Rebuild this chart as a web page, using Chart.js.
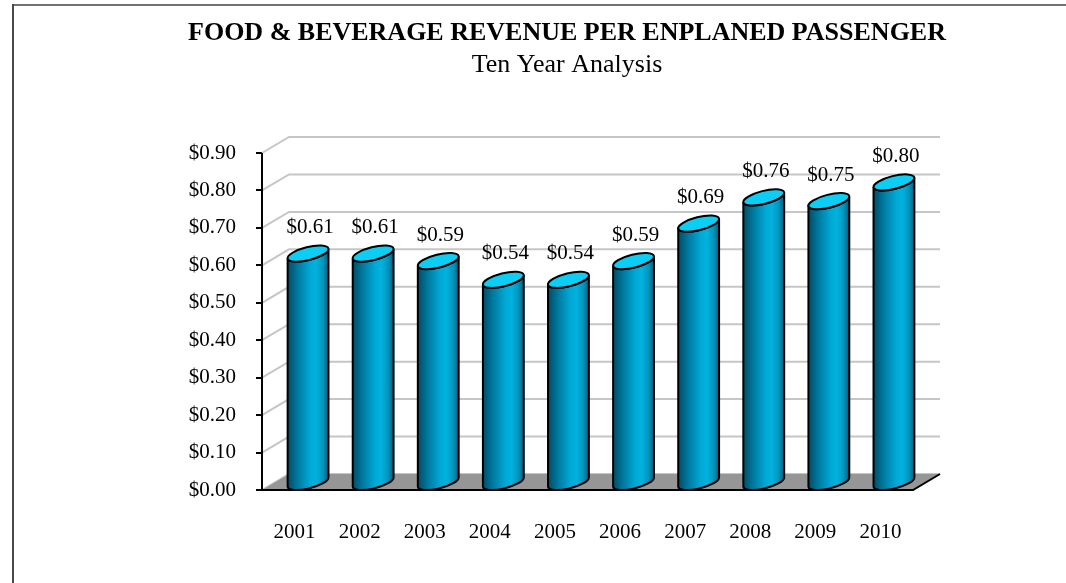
<!DOCTYPE html>
<html>
<head>
<meta charset="utf-8">
<script src="https://cdn.jsdelivr.net/npm/chart.js@4.4.1/dist/chart.umd.min.js"></script>
<style>
  html, body { margin: 0; padding: 0; background: #ffffff; width: 1066px; height: 583px; overflow: hidden; }
  #frameTop { position: absolute; left: 12px; top: 4px; width: 1054px; height: 2px; background: #727272; }
  #frameLeft { position: absolute; left: 12px; top: 4px; width: 2px; height: 579px; background: #4a4a4a; }
  #c { position: absolute; left: 0; top: 0; display: block; }
</style>
</head>
<body>
<div id="frameTop"></div>
<div id="frameLeft"></div>
<canvas id="c" width="1066" height="583"></canvas>
<script>
// ---- data ----
const years = ['2001','2002','2003','2004','2005','2006','2007','2008','2009','2010'];
const revenuePerPassenger = [0.61, 0.61, 0.59, 0.54, 0.54, 0.59, 0.69, 0.76, 0.75, 0.80];
const yTickMin = 0;
const yTickMax = 0.9;
const yTickStep = 0.1;
const titleText = 'FOOD & BEVERAGE REVENUE PER ENPLANED PASSENGER';
const subtitleText = 'Ten Year Analysis';

// ---- style constants ----
const SERIF = '"Liberation Serif", "Times New Roman", serif';
const DEPTH_X = 27, DEPTH_Y = -16;
const ELL_MINOR = 6.5, ELL_ROT = -0.245;

const fmt = v => '$' + v.toFixed(2);

const titlePlugin = {
  id: 'titles',
  afterDraw(chart) {
    const ctx = chart.ctx;
    const cxTitle = (chart.chartArea.left + chart.chartArea.right + DEPTH_X) / 2 - 34;
    ctx.save();
    ctx.fillStyle = '#000';
    ctx.textAlign = 'center';
    ctx.textBaseline = 'middle';
    ctx.font = 'bold 26px ' + SERIF;
    ctx.fillText(titleText, cxTitle, 33);
    ctx.font = '26px ' + SERIF;
    ctx.fillText(subtitleText, cxTitle, 65);
    ctx.restore();
  }
};

const cylinderPlugin = {
  id: 'cylinder3d',
  beforeDatasetsDraw(chart) {
    const ctx = chart.ctx;
    const xs = chart.scales.x, ys = chart.scales.y;
    const left = xs.left, right = xs.right;
    const y0 = ys.getPixelForValue(0);
    ctx.save();
    ctx.strokeStyle = '#c6c6c6';
    ctx.lineWidth = 2;
    ys.ticks.forEach(t => {
      const y = ys.getPixelForValue(t.value);
      ctx.beginPath();
      ctx.moveTo(left, y);
      ctx.lineTo(left + DEPTH_X, y + DEPTH_Y);
      ctx.lineTo(right + DEPTH_X, y + DEPTH_Y);
      ctx.stroke();
    });
    ctx.fillStyle = '#969696';
    ctx.beginPath();
    ctx.moveTo(left, y0);
    ctx.lineTo(right, y0);
    ctx.lineTo(right + DEPTH_X, y0 + DEPTH_Y);
    ctx.lineTo(left + DEPTH_X, y0 + DEPTH_Y);
    ctx.closePath();
    ctx.fill();
    ctx.strokeStyle = '#000';
    ctx.lineWidth = 2;
    ctx.beginPath();
    ctx.moveTo(left, y0);
    ctx.lineTo(right, y0);
    ctx.lineTo(right + DEPTH_X, y0 + DEPTH_Y);
    ctx.stroke();
    ctx.beginPath();
    ctx.moveTo(left, ys.top);
    ctx.lineTo(left, y0);
    ctx.stroke();
    ctx.restore();
  },
  afterDatasetsDraw(chart) {
    const ctx = chart.ctx;
    const ys = chart.scales.y;
    const meta = chart.getDatasetMeta(0);
    const y0 = ys.getPixelForValue(0);
    const th = ELL_ROT;
    meta.data.forEach((bar, i) => {
      const a = bar.width / 2, b = ELL_MINOR;
      const cx = bar.x + DEPTH_X / 2;
      const topY = bar.y + DEPTH_Y / 2;
      const botY = y0 + DEPTH_Y / 2;
      const tR = Math.atan(-(b * Math.sin(th)) / (a * Math.cos(th)));
      const tL = tR + Math.PI;
      const pt = (cy, t) => [cx + a * Math.cos(t) * Math.cos(th) - b * Math.sin(t) * Math.sin(th),
                             cy + a * Math.cos(t) * Math.sin(th) + b * Math.sin(t) * Math.cos(th)];
      const [lx] = pt(topY, tL);
      const [rx] = pt(topY, tR);
      ctx.save();
      const g = ctx.createLinearGradient(lx, 0, rx, 0);
      g.addColorStop(0, '#004c66');
      g.addColorStop(0.25, '#007aa0');
      g.addColorStop(0.55, '#00a9d6');
      g.addColorStop(0.7, '#00b2de');
      g.addColorStop(0.87, '#0094bc');
      g.addColorStop(1, '#005a78');
      ctx.beginPath();
      const pTL = pt(topY, tL);
      ctx.moveTo(pTL[0], pTL[1]);
      const pBL = pt(botY, tL);
      ctx.lineTo(pBL[0], pBL[1]);
      ctx.ellipse(cx, botY, a, b, th, tL, tR, true);
      const pTR = pt(topY, tR);
      ctx.lineTo(pTR[0], pTR[1]);
      ctx.ellipse(cx, topY, a, b, th, tR, tL, false);
      ctx.closePath();
      ctx.fillStyle = g;
      ctx.fill();
      ctx.strokeStyle = '#000';
      ctx.lineWidth = 2;
      ctx.stroke();
      ctx.beginPath();
      ctx.ellipse(cx, topY, a, b, th, 0, Math.PI * 2);
      ctx.fillStyle = '#0ccdf4';
      ctx.fill();
      ctx.stroke();
      ctx.fillStyle = '#000';
      ctx.font = '21px ' + SERIF;
      ctx.textAlign = 'center';
      ctx.textBaseline = 'middle';
      ctx.fillText(fmt(revenuePerPassenger[i]), cx + 2, topY - 26);
      ctx.restore();
    });
  }
};

new Chart(document.getElementById('c'), {
  type: 'bar',
  data: {
    labels: years,
    datasets: [{
      data: revenuePerPassenger,
      backgroundColor: 'rgba(0,0,0,0)',
      borderWidth: 0,
      categoryPercentage: 1,
      barPercentage: 0.645
    }]
  },
  options: {
    responsive: false,
    animation: false,
    layout: { padding: { left: 0, right: 153, top: 153, bottom: 0 } },
    plugins: {
      legend: { display: false },
      tooltip: { enabled: false },
      title: { display: false },
      subtitle: { display: false }
    },
    scales: {
      x: {
        grid: { display: false },
        border: { display: false },
        ticks: { color: '#000', font: { family: SERIF, size: 21 }, padding: 22, maxRotation: 0 },
        afterFit: s => { s.height = 93; }
      },
      y: {
        min: yTickMin, max: yTickMax,
        grid: { display: true, drawOnChartArea: false, drawTicks: true, tickLength: 6, color: '#000', lineWidth: 2 },
        border: { display: true, color: '#000', width: 2 },
        ticks: { stepSize: yTickStep, color: '#000', font: { family: SERIF, size: 21 }, padding: 20,
                 callback: v => fmt(v) },
        afterFit: s => { s.width = 262; }
      }
    }
  },
  plugins: [cylinderPlugin, titlePlugin]
});
</script>
</body>
</html>
